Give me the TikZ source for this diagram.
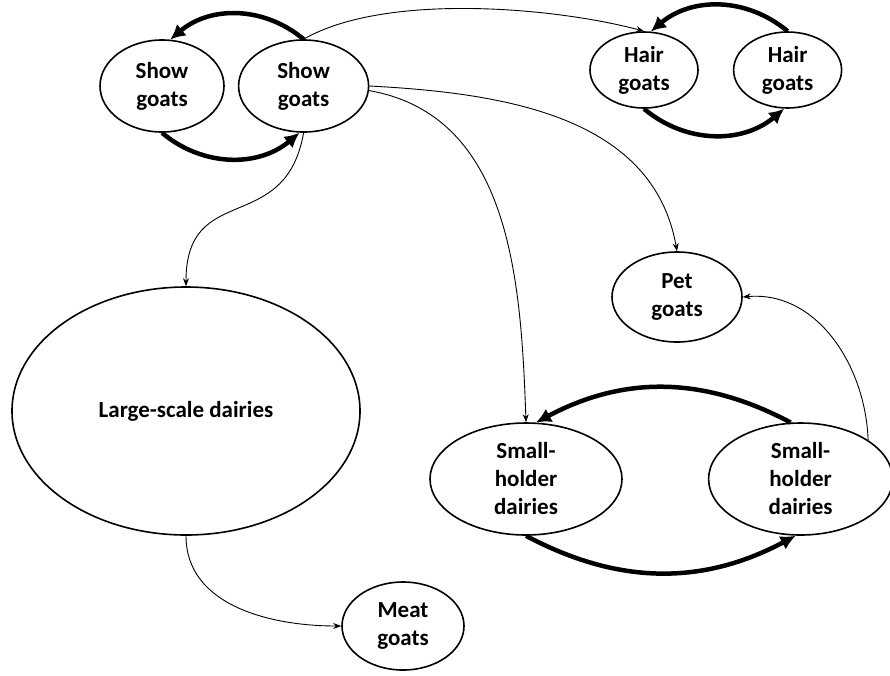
\documentclass[tikz,border=0pt]{standalone}
\usepackage{fontspec}
\setmainfont{Carlito}
\usetikzlibrary{
    positioning,
    arrows.meta,
    shapes.geometric
}

\begin{document}
\begin{tikzpicture}[
    x=1pt, y=1pt,
    herdnode/.style args = {#1/#2}{
        ellipse,
        draw,
        line width=1.6pt,
        inner sep=0pt,
        minimum width=#1,
        minimum height=#2,
        align=center,
        font=\fontsize{23}{28}\selectfont\bfseries,
    },
    tradeflow/.style={
        -{Stealth[length=8pt,width=6pt]},
        line width=0.9pt,
    },
    loopflow/.style={
        -{Latex[length=15pt,width=15pt]},
        line width=4.5pt,
    },
]
    \useasboundingbox (0,0) rectangle (890,-675);

    \node[herdnode={124pt/92pt}] (show1) at (162,-86) {Show\\goats};
    \node[herdnode={130pt/92pt}] (show2) [right=13pt of show1] {Show\\goats};
    \node[herdnode={108pt/76pt}] (hair1) at (644,-70) {Hair\\goats};
    \node[herdnode={108pt/76pt}] (hair2) [right=34pt of hair1] {Hair\\goats};
    \node[herdnode={130pt/90pt}] (pet) at (677,-297) {Pet\\goats};
    \node[herdnode={348pt/248pt}] (large) at (186,-411) {Large-scale dairies};
    \node[herdnode={192pt/112pt}] (small1) at (526,-479) {Small-\\holder\\dairies};
    \node[herdnode={184pt/112pt}] (small2) [right=85pt of small1] {Small-\\holder\\dairies};
    \node[herdnode={122pt/88pt}] (meat) at (403,-626) {Meat\\goats};

    % trade within each sector
    \draw[loopflow] (show2.north) to[bend right=40] (show1.80);
    \draw[loopflow] (show1.south) to[bend right=40] (show2.265);
    \draw[loopflow] (hair2.north) to[bend right=40] (hair1.80);
    \draw[loopflow] (hair1.south) to[bend right=40] (hair2.265);
    \draw[loopflow] (small2.100) to[bend right=28] (small1.80);
    \draw[loopflow] (small1.south) to[bend right=28] (small2.265);

    % trade between sectors
    \draw[tradeflow] (show2.north) to[out=30, in=165, looseness=0.7] (hair1.north);
    \draw[tradeflow] (show2.east) to[out=-3, in=100] (pet.north);
    \draw[tradeflow] (show2.-4) to[out=-10, in=92] (small1.north);
    \draw[tradeflow] (show2.south) to[out=-100, in=90, looseness=1.4] (large.north);
    \draw[tradeflow] (small2.30) to[out=92, in=5] (pet.east);
    \draw[tradeflow] (large.south) to[out=-90, in=180] (meat.west);
\end{tikzpicture}
\end{document}
